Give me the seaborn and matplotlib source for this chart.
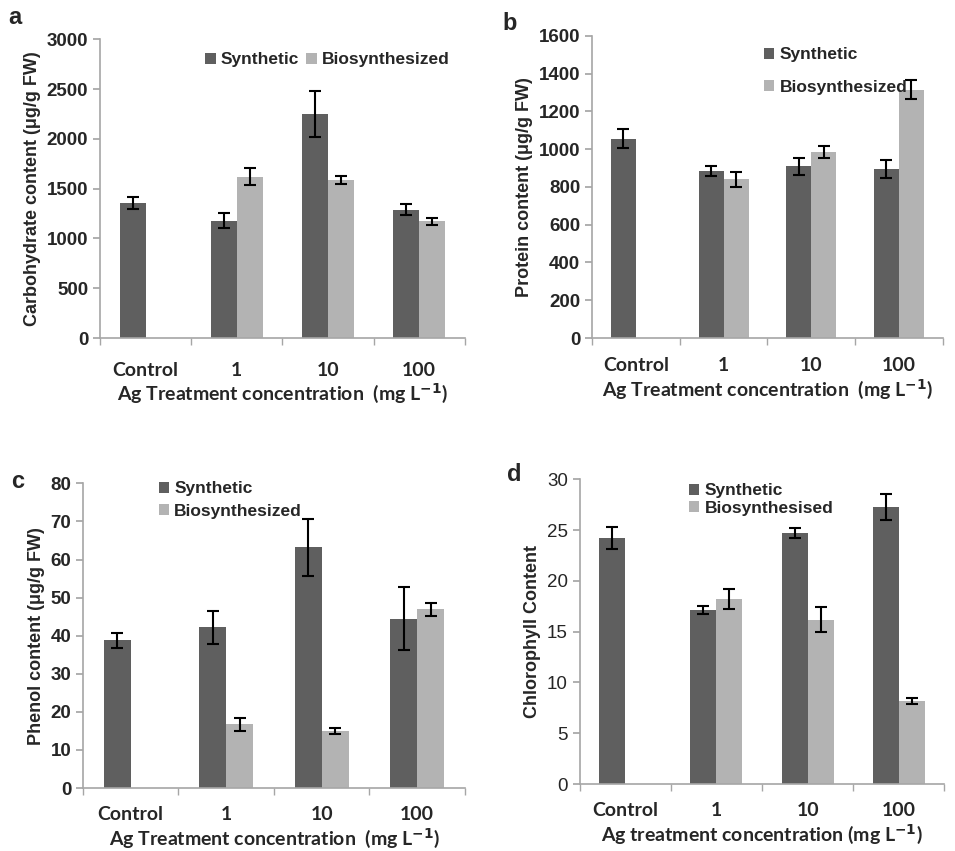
import numpy as np
import pandas as pd
import seaborn as sns
import matplotlib.pyplot as plt

concs = ["Control", "1", "10", "100"]
types = ["Synthetic", "Biosynthesized"]

carb_syn = [1360, 1180, 2250, 1290]
carb_syn_err = [60, 80, 235, 55]
carb_bio = [np.nan, 1620, 1585, 1175]
carb_bio_err = [np.nan, 85, 40, 35]

prot_syn = [1055, 885, 910, 895]
prot_syn_err = [50, 25, 45, 50]
prot_bio = [np.nan, 840, 985, 1315]
prot_bio_err = [np.nan, 40, 30, 50]

phen_syn = [38.8, 42.2, 63.2, 44.5]
phen_syn_err = [2.0, 4.3, 7.5, 8.2]
phen_bio = [np.nan, 16.8, 15.0, 47.0]
phen_bio_err = [np.nan, 1.7, 0.8, 1.7]

chl_syn = [24.2, 17.1, 24.7, 27.3]
chl_syn_err = [1.1, 0.4, 0.5, 1.3]
chl_bio = [np.nan, 18.2, 16.2, 8.2]
chl_bio_err = [np.nan, 1.0, 1.2, 0.3]

DARK = "#5f5f5f"
LIGHT = "#b3b3b3"
SPINE = "#a6a6a6"

sns.set_theme(style="white")
plt.rcParams["font.family"] = ["Liberation Sans", "DejaVu Sans"]


def make_df(syn, syn_err, bio, bio_err):
    rows = []
    for i, c in enumerate(concs):
        rows.append((c, "Synthetic", syn[i], syn_err[i]))
        if not np.isnan(bio[i]):
            rows.append((c, "Biosynthesized", bio[i], bio_err[i]))
    return pd.DataFrame(rows, columns=["conc", "type", "value", "err"])


def draw(ax, df, ymax, ystep, ylabel, xlabel, bio_name, tick_bold=True, xpad=14,
         ylabel_size=13):
    sns.barplot(data=df, x="conc", y="value", hue="type", order=concs,
                hue_order=types, palette=[DARK, LIGHT], errorbar=None,
                width=0.57, linewidth=0, ax=ax)
    for name, cont in zip(types, ax.containers):
        sub = df[df["type"] == name].set_index("conc")
        for bar in cont:
            xc = bar.get_x() + bar.get_width() / 2
            cat = concs[int(round(xc))]
            if cat in sub.index:
                ax.errorbar(xc, sub.loc[cat, "value"], yerr=sub.loc[cat, "err"],
                            fmt="none", ecolor="black", elinewidth=1.5,
                            capsize=4, capthick=1.5)
    ax.set_ylim(0, ymax)
    ax.set_yticks(np.arange(0, ymax + ystep / 2, ystep))
    ax.set_xlim(-0.5, 3.5)
    ax.set_xticks(np.arange(-0.5, 4, 1), minor=True)
    ax.tick_params(axis="x", which="minor", length=5, color=SPINE, direction="out", bottom=True)
    ax.tick_params(axis="x", which="major", length=0, pad=xpad)
    ax.tick_params(axis="y", length=5, color=SPINE, direction="out", left=True, labelsize=13.5)
    for lab in ax.get_xticklabels():
        lab.set_fontfamily("Lato")
        lab.set_fontweight("bold")
        lab.set_fontsize(14)
    for lab in ax.get_yticklabels():
        lab.set_fontweight("bold" if tick_bold else "normal")
    sns.despine(ax=ax)
    for s in ["left", "bottom"]:
        ax.spines[s].set_color(SPINE)
        ax.spines[s].set_linewidth(1.2)
    ax.set_ylabel(ylabel, fontsize=ylabel_size, fontweight="bold")
    ax.set_xlabel(xlabel, fontsize=14, fontfamily="Lato", fontweight="bold", labelpad=2)
    handles, _ = ax.get_legend_handles_labels()
    return handles, ["Synthetic", bio_name]


fig = plt.figure(figsize=(9.55, 8.51), dpi=100)
ax_a = fig.add_axes([0.1047, 0.6028, 0.382, 0.351])
ax_b = fig.add_axes([0.620, 0.6028, 0.367, 0.355])
ax_c = fig.add_axes([0.0869, 0.074, 0.400, 0.358])
ax_d = fig.add_axes([0.607, 0.0787, 0.382, 0.358])

leg_kw = dict(loc="upper left", frameon=False, handlelength=0.6, handleheight=0.6,
              handletextpad=0.3, borderaxespad=0, prop={"weight": "bold", "size": 12.5})

xl = r"Ag Treatment concentration  (mg L$^{\mathbf{-1}}$)"
h, l = draw(ax_a, make_df(carb_syn, carb_syn_err, carb_bio, carb_bio_err), 3000, 500,
            "Carbohydrate content (μg/g FW)", xl, "Biosynthesized", xpad=17)
ax_a.legend(h, l, bbox_to_anchor=(0.27, 0.98), ncol=2, columnspacing=0.4, **leg_kw)

h, l = draw(ax_b, make_df(prot_syn, prot_syn_err, prot_bio, prot_bio_err), 1600, 200,
            "Protein content (μg/g FW)", xl, "Biosynthesized")
ax_b.legend(h, l, bbox_to_anchor=(0.47, 0.985), labelspacing=1.0, **leg_kw)

h, l = draw(ax_c, make_df(phen_syn, phen_syn_err, phen_bio, phen_bio_err), 80, 10,
            "Phenol content (μg/g FW)", xl, "Biosynthesized", xpad=13)
ax_c.legend(h, l, bbox_to_anchor=(0.18, 1.03), labelspacing=0.45, **leg_kw)

h, l = draw(ax_d, make_df(chl_syn, chl_syn_err, chl_bio, chl_bio_err), 30, 5,
            "Chlorophyll Content", r"Ag treatment concentration (mg L$^{\mathbf{-1}}$)",
            "Biosynthesised", tick_bold=False, xpad=13, ylabel_size=13)
ax_d.legend(h, l, bbox_to_anchor=(0.28, 1.01), labelspacing=0.15, **leg_kw)

for txt, x, y in [("a", 0.016, 0.979), ("b", 0.534, 0.972), ("c", 0.019, 0.434), ("d", 0.539, 0.442)]:
    fig.text(x, y, txt, fontsize=17, fontweight="bold", ha="center", va="center")

fig.savefig("out.png", dpi=100)
